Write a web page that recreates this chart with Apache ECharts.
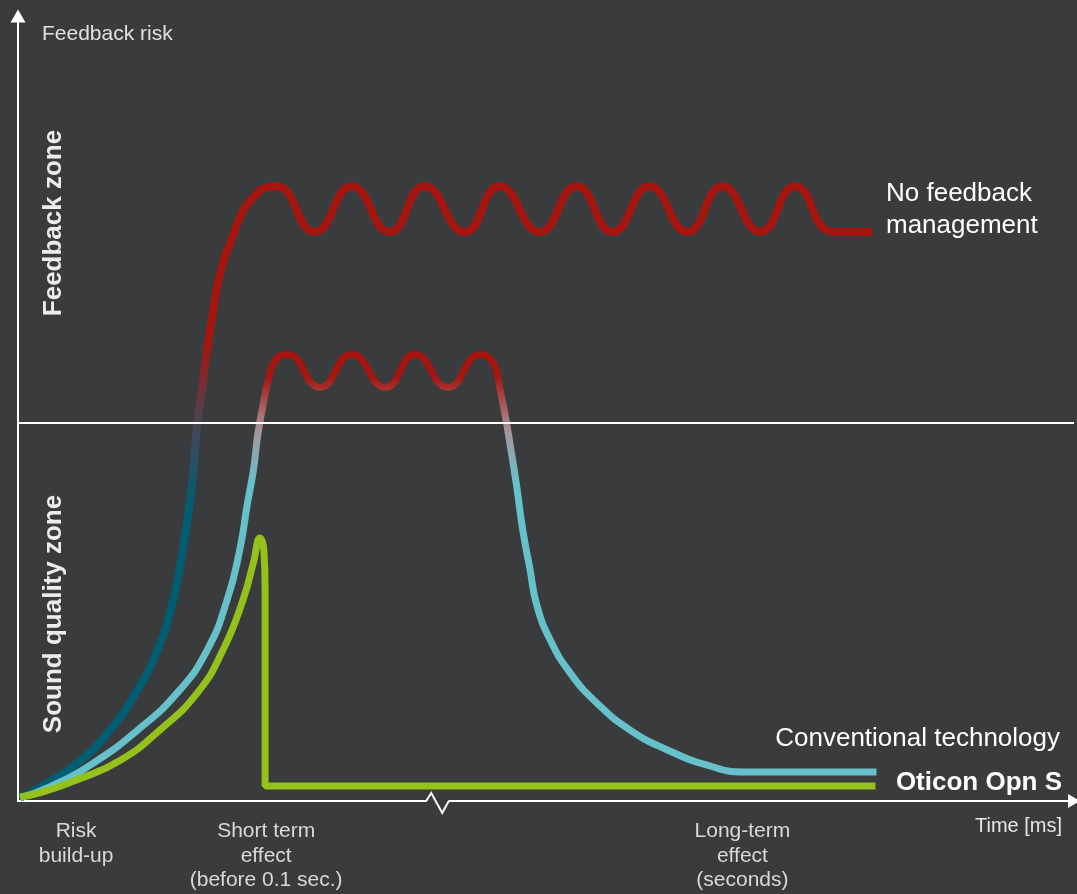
<!DOCTYPE html>
<html>
<head>
<meta charset="utf-8">
<script src="https://cdn.jsdelivr.net/npm/echarts@6/dist/echarts.min.js"></script>
<style>
html,body{margin:0;padding:0;background:#3a3b3d;}
#chart{width:1077px;height:894px;}
</style>
</head>
<body>
<div id="chart"></div>
<script>
// ---- data (time 0-100, feedback risk 0-100) ----
const phaseTicks = [5.5, 23.5, 68.6];
const phaseLabels = ['Risk\nbuild-up', 'Short term\neffect\n(before 0.1 sec.)', 'Long-term\neffect\n(seconds)'];
const feedbackThreshold = 48.2;
const axisBreakAt = 39.7;

const noFeedback = [
  [0.2,0.4],[2.2,1.8],[5.6,4.8],[8.7,9.0],[11.3,14.1],[13.2,19.2],[14.7,25.6],[15.6,32.0],
  [16.3,38.3],[16.6,42.2],[17.0,48.2],[17.5,53.2],[17.9,57.5],[18.4,61.7],[18.8,65.1],
  [19.4,68.5],[20.3,71.8],[21.2,74.9],[22.3,76.9],[23.6,78.2],[24.5,78.3],
  [28.1,72.5],[31.6,78.3],[35.2,72.5],[38.5,78.3],[42.3,72.5],[45.6,78.3],[49.4,72.5],
  [52.9,78.3],[56.3,72.5],[59.8,78.3],[63.4,72.5],[66.7,78.3],[70.3,72.5],[73.6,78.3],
  [77.2,72.5],[80.9,72.5]
];

const conventional = [
  [0.2,0.4],[3.0,1.8],[7.1,4.8],[11.3,9.0],[15.1,13.8],[17.9,19.2],[19.8,25.6],[21.0,32.0],
  [21.7,37.7],[22.3,42.2],[22.7,46.6],[23.2,50.4],[23.7,53.6],[24.4,56.2],[25.5,56.9],
  [28.6,52.7],[31.6,56.9],[34.8,52.7],[37.6,56.9],[40.7,52.7],[43.8,56.9],
  [45.0,55.8],[45.6,52.7],[46.1,49.4],[46.6,45.4],[47.2,40.3],[47.8,34.5],[48.5,29.4],
  [49.1,25.1],[50.4,20.5],[52.3,16.3],[54.8,12.5],[58.0,9.0],[61.5,6.5],[65.2,4.6],
  [68.7,3.7],[74.1,3.7],[81.3,3.7]
];

const opnS = [
  [0.2,0.5],[2.2,1.1],[5.6,2.7],[9.7,5.2],[13.4,9.0],[17.0,13.8],[19.4,19.2],[21.3,25.6],
  [22.3,30.4],[22.9,33.5],[23.3,31.6],[23.4,26.9],[23.4,1.9],[26.7,1.9],[81.2,1.9]
];

const BG = '#3a3b3d';
const FONT = '"Liberation Sans", Arial, Helvetica, sans-serif';

const chart = echarts.init(document.getElementById('chart'), null, {renderer: 'canvas'});

const option = {
  backgroundColor: BG,
  animation: false,
  grid: {left: 18, right: 3, top: 16, bottom: 93, containLabel: false},
  xAxis: {
    type: 'value', min: 0, max: 100,
    axisLine: {show: true, lineStyle: {color: '#ffffff', width: 2}, symbol: ['none', 'triangle'], symbolSize: [14, 12]},
    axisTick: {show: false},
    splitLine: {show: false},
    axisLabel: {
      customValues: phaseTicks,
      formatter: function (v) { return phaseLabels[phaseTicks.indexOf(v)]; },
      color: '#d9d9d9', fontSize: 21, lineHeight: 24.5, fontFamily: FONT, margin: 18
    }
  },
  yAxis: {
    type: 'value', min: 0, max: 100,
    axisLine: {show: true, lineStyle: {color: '#ffffff', width: 2}, symbol: ['none', 'triangle'], symbolSize: [15, 13]},
    axisTick: {show: false},
    splitLine: {show: false},
    axisLabel: {show: false}
  },
  visualMap: [
    {type: 'continuous', show: false, seriesIndex: 1, dimension: 1, min: 38, max: 58,
     inRange: {color: ['#005d72', '#4a4558', '#a51611']}},
    {type: 'continuous', show: false, seriesIndex: 2, dimension: 1, min: 40.5, max: 54,
     inRange: {color: ['#66c1cb', '#a8949a', '#a51611']}}
  ],
  series: [
    {
      type: 'line', data: [], z: 1, silent: true,
      markLine: {
        silent: true, symbol: 'none', label: {show: false},
        lineStyle: {color: '#ffffff', width: 2, type: 'solid'},
        emphasis: {disabled: true},
        data: [{yAxis: feedbackThreshold}]
      }
    },
    {
      name: 'No feedback management', type: 'line', data: noFeedback, z: 3,
      smooth: 0.5, showSymbol: false, silent: true,
      lineStyle: {width: 8}
    },
    {
      name: 'Conventional technology', type: 'line', data: conventional, z: 4,
      smooth: 0.5, showSymbol: false, silent: true,
      lineStyle: {width: 7}
    },
    {
      name: 'Oticon Opn S', type: 'line', data: opnS, z: 5,
      smooth: 0.5, showSymbol: false, silent: true,
      lineStyle: {width: 7, color: '#94c11c'}
    }
  ]
};

chart.setOption(option);

const bp = chart.convertToPixel({gridIndex: 0}, [axisBreakAt, 0]);
const bx = bp[0], by = bp[1];

chart.setOption({
  graphic: [
    {type: 'rect', z: 50, silent: true, shape: {x: bx - 10.5, y: by - 2.5, width: 21.5, height: 5}, style: {fill: BG}},
    {type: 'polyline', z: 51, silent: true,
     shape: {points: [[bx - 11, by], [bx - 6, by - 8], [bx + 5, by + 12], [bx + 11, by + 1], [bx + 12, by + 1]]},
     style: {stroke: '#ffffff', lineWidth: 2, fill: null, lineJoin: 'miter'}},
    {type: 'text', x: 42, y: 24, silent: true,
     style: {text: 'Feedback risk', fill: '#e0e0e0', font: '21px ' + FONT, lineHeight: 21, align: 'left', verticalAlign: 'top'}},
    {type: 'text', x: 54, y: 223, rotation: Math.PI / 2, silent: true,
     style: {text: 'Feedback zone', fill: '#ececec', font: 'bold 26px ' + FONT, align: 'center', verticalAlign: 'middle'}},
    {type: 'text', x: 54, y: 614, rotation: Math.PI / 2, silent: true,
     style: {text: 'Sound quality zone', fill: '#ececec', font: 'bold 26px ' + FONT, align: 'center', verticalAlign: 'middle'}},
    {type: 'text', x: 886, y: 178, silent: true,
     style: {text: 'No feedback\nmanagement', fill: '#ffffff', font: '26px ' + FONT, lineHeight: 32, align: 'left', verticalAlign: 'top'}},
    {type: 'text', x: 1060, y: 726, silent: true,
     style: {text: 'Conventional technology', fill: '#ffffff', font: '26px ' + FONT, lineHeight: 26, align: 'right', verticalAlign: 'top'}},
    {type: 'text', x: 1062, y: 770, silent: true,
     style: {text: 'Oticon Opn S', fill: '#ffffff', font: 'bold 26px ' + FONT, lineHeight: 26, align: 'right', verticalAlign: 'top'}},
    {type: 'text', x: 1062, y: 816, silent: true,
     style: {text: 'Time [ms]', fill: '#e6e6e6', font: '20px ' + FONT, lineHeight: 20, align: 'right', verticalAlign: 'top'}}
  ]
});
</script>
</body>
</html>
